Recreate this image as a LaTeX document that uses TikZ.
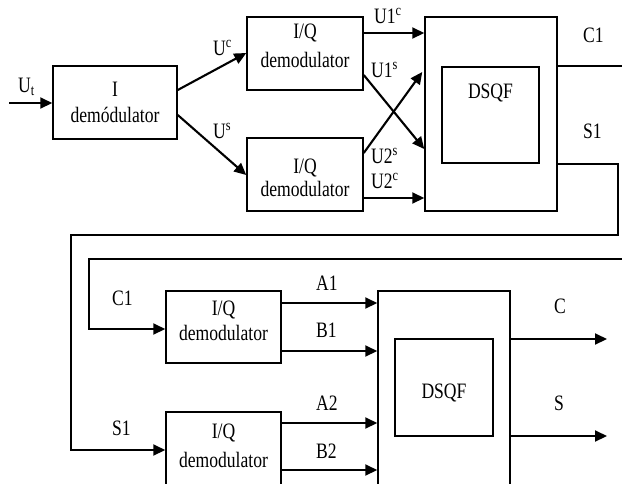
\documentclass[tikz,border=0pt]{standalone}
\usepackage{fontspec}
\setmainfont{Liberation Serif}[FakeStretch=0.8]
\usetikzlibrary{arrows.meta}
\begin{document}
\begin{tikzpicture}[x=1pt,y=-1pt,
  every node/.style={font=\fontsize{22}{26}\selectfont},
  box/.style={draw, line width=1.5pt, inner sep=0pt},
  txt/.style={anchor=base, inner sep=0pt},
  lbl/.style={anchor=base west, inner sep=0pt},
  wire/.style={line width=2.1pt},
  arr/.style={wire, -{Triangle[length=12pt,width=11pt]}}]
\useasboundingbox (0,0) rectangle (622,483);
\clip (0,0) rectangle (622,483);
% boxes
\node[box, minimum width=124pt, minimum height=73pt] (idem) at (115,102.5) {};
\node[box, minimum width=116pt, minimum height=73pt] (iq1) at (305,53.5) {};
\node[box, minimum width=116pt, minimum height=73pt] (iq2) at (305,174.5) {};
\node[box, minimum width=132pt, minimum height=194pt] (dsqf1) at (491,114) {};
\node[box, minimum width=97pt, minimum height=96pt] (in1) at (490.5,115) {};
\node[box, minimum width=115pt, minimum height=72pt] (iq3) at (223.5,327) {};
\node[box, minimum width=115pt, minimum height=73pt] (iq4) at (223.5,448.5) {};
\node[box, minimum width=132pt, minimum height=194pt] (dsqf2) at (444,388) {};
\node[box, minimum width=98pt, minimum height=97pt] (in2) at (444,387.5) {};
% box texts
\node[txt] (t1) at (115,96) {I};
\node[txt] (t2) at (115,122) {demódulator};
\node[txt] (t3) at (305,38) {I/Q};
\node[txt] (t4) at (305,67) {demodulator};
\node[txt] (t5) at (305,173) {I/Q};
\node[txt] (t6) at (305,196) {demodulator};
\node[txt] (t7) at (490.5,98) {DSQF};
\node[txt] (t8) at (223.5,315) {I/Q};
\node[txt] (t9) at (223.5,340) {demodulator};
\node[txt] (t10) at (223.5,438) {I/Q};
\node[txt] (t11) at (223.5,467) {demodulator};
\node[txt] (t12) at (444,398) {DSQF};
% labels
\node[lbl] (lUt) at (18,92.5) {U\textsubscript{t}};
\node[lbl] (lUc) at (213,55) {U\textsuperscript{c}};
\node[lbl] (lUs) at (213,138) {U\textsuperscript{s}};
\node[lbl] (lU1c) at (374,23) {U1\textsuperscript{c}};
\node[lbl] (lU1s) at (371,77) {U1\textsuperscript{s}};
\node[lbl] (lU2s) at (371,163) {U2\textsuperscript{s}};
\node[lbl] (lU2c) at (371,188) {U2\textsuperscript{c}};
\node[lbl] (lC1a) at (583,42) {C1};
\node[lbl] (lS1a) at (583,138) {S1};
\node[lbl] (lC1b) at (112,305) {C1};
\node[lbl] (lS1b) at (112,435) {S1};
\node[lbl] (lA1) at (316,290) {A1};
\node[lbl] (lB1) at (316,337) {B1};
\node[lbl] (lA2) at (316,410) {A2};
\node[lbl] (lB2) at (316,458) {B2};
\node[lbl] (lC) at (554,313) {C};
\node[lbl] (lS) at (554,410) {S};
% free ends
\coordinate (in) at (9,103);
\coordinate (c1out) at (622,66);
\coordinate (sR) at (618,235);
\coordinate (sL) at (71,235);
\coordinate (cR) at (622,259);
\coordinate (cL) at (89,259);
\coordinate (cout) at (607,339);
\coordinate (sout) at (607,436);
% connectors
\draw[arr] (in) -- (idem.west |- in);
\draw[arr] (idem.east |- 0,90) -- (iq1.west |- 0,53);
\draw[arr] (idem.east |- 0,115) -- (iq2.west |- 0,175);
\draw[arr] (iq1.east |- 0,33) -- (dsqf1.west |- 0,33);
\draw[arr] (iq1.east |- 0,75) -- (dsqf1.west |- 0,149);
\draw[arr] (iq2.east |- 0,153) -- ([xshift=-2pt]dsqf1.west |- 0,72);
\draw[arr] (iq2.east |- 0,198) -- (dsqf1.west |- 0,198);
\draw[wire] (dsqf1.east |- c1out) -- (c1out);
\draw[arr] (dsqf1.east |- in1.south) -| (sR) -- (sL) |- (iq4.west |- 0,450);
\draw[arr] (cR) -- (cL) |- (iq3.west |- 0,329);
\draw[arr] (iq3.east |- 0,303) -- (dsqf2.west |- 0,303);
\draw[arr] (iq3.east |- 0,351) -- (dsqf2.west |- 0,351);
\draw[arr] (iq4.east |- 0,423) -- (dsqf2.west |- 0,423);
\draw[arr] (iq4.east |- 0,470) -- (dsqf2.west |- 0,470);
\draw[arr] (dsqf2.east |- cout) -- (cout);
\draw[arr] (dsqf2.east |- sout) -- (sout);
\end{tikzpicture}
\end{document}
